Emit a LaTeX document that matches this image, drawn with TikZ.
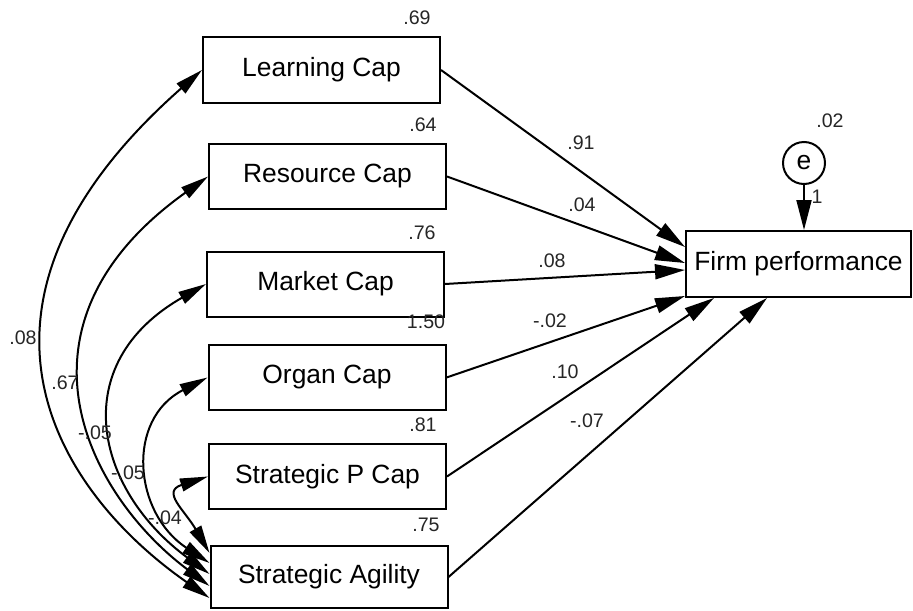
\documentclass[tikz,border=0pt]{standalone}
\usepackage{fontspec}
\setmainfont{Liberation Sans}
\usetikzlibrary{arrows.meta,calc}
\begin{document}
\begin{tikzpicture}[x=0.5pt,y=-0.5pt,
  var/.style={draw,line width=1pt,rectangle,minimum width=118.5pt,minimum height=32.5pt,inner sep=0pt,font=\fontsize{13.2}{15}\selectfont},
  num/.style={inner sep=0pt,font=\fontsize{9.8}{11}\selectfont,text=black!85},
  reg/.style={line width=1pt,-{Triangle[length=15pt,width=7.5pt]}},
  cov/.style={line width=1pt,{Triangle[length=14pt,width=6.5pt]}-{Triangle[length=14pt,width=6.5pt]}}]
\useasboundingbox (0,0) rectangle (913,610);

\node[var] (learn) at (321.5,70) {Learning Cap};
\node[var] (res) at (327.5,176.5) {Resource Cap};
\node[var] (mkt) at (325.5,284) {Market Cap};
\node[var] (org) at (327,377.5) {Organ Cap};
\node[var] (spc) at (327.5,476.5) {Strategic P Cap};
\node[var,minimum height=31pt] (agil) at (329,577) {Strategic Agility};
\node[var,minimum width=112.5pt,minimum height=33pt] (firm) at (798.5,264) {Firm performance};
\node[draw,circle,line width=1pt,minimum size=21pt,inner sep=0pt,font=\fontsize{13.2}{15}\selectfont] (e) at (804,163) {e};

\node[num] at (417,18) {.69};
\node[num] at (423,125) {.64};
\node[num] at (422,233) {.76};
\node[num] at (426,322) {1.50};
\node[num] at (423,425) {.81};
\node[num] at (426,525) {.75};
\node[num] at (830,121) {.02};

\draw[reg] (e.south) -- (e.south |- firm.north);
\node[num] at (817,197) {1};

\draw[reg] (learn.east) -- ($(firm.west)+(0,-17)$);
\draw[reg] (res.east) -- ($(firm.west)+(0,-1)$);
\draw[reg] (mkt.east) -- ($(firm.west)+(0,6)$);
\draw[reg] (org.east) -- ($(firm.south west)+(0,-2)$);
\draw[reg] (spc.east) -- ($(firm.south west)+(29,0)$);
\draw[reg] (agil.east) -- ($(firm.south west)+(82,0)$);
\node[num] at (581,143) {.91};
\node[num] at (582,205) {.04};
\node[num] at (552,261) {.08};
\node[num] at (550,321) {-.02};
\node[num] at (565,372) {.10};
\node[num] at (587,421) {-.07};

\draw[cov] (learn.west) .. controls +(-270,238) and +(-148,-103) .. ($(agil.west)+(0,21)$);
\draw[cov] (res.west) .. controls +(-210,150) and +(-120,-90) .. ($(agil.west)+(0,9)$);
\draw[cov] (mkt.west) .. controls +(-140,80) and +(-115,-85) .. ($(agil.west)+(0,-3)$);
\draw[cov] (org.west) .. controls +(-82,42) and +(-76,-50) .. ($(agil.west)+(0,-14)$);
\draw[cov] (spc.west) .. controls +(-47,15) and +(-25,-43) .. ($(agil.west)+(0,-24)$);
\node[num] at (23,338) {.08};
\node[num] at (65,383) {.67};
\node[num] at (95,433) {-.05};
\node[num] at (128,473) {-.05};
\node[num] at (165,518) {-.04};
\end{tikzpicture}
\end{document}
